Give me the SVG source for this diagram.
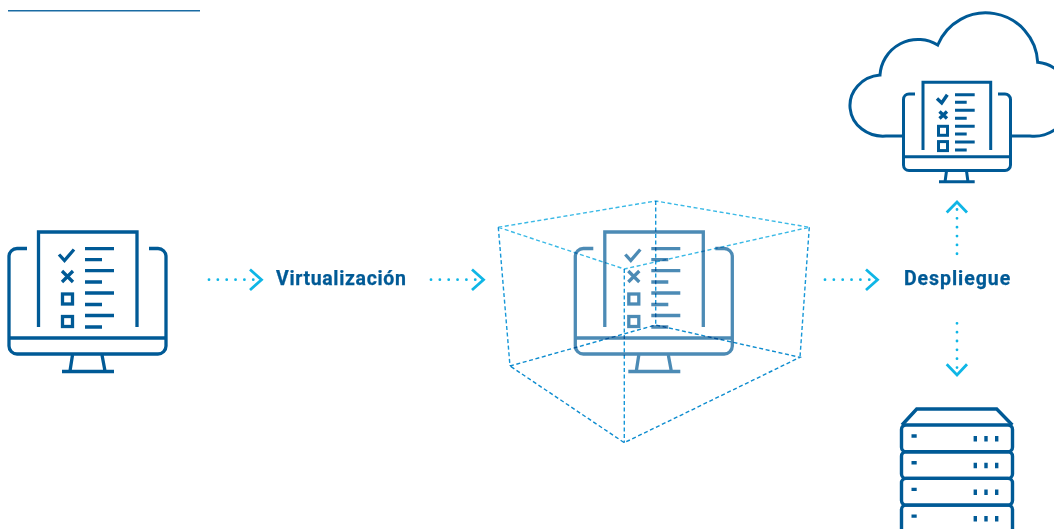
<svg xmlns="http://www.w3.org/2000/svg" width="1054" height="529" viewBox="0 0 1054 529">
<style>
.i{fill:none;stroke:#005a96;stroke-width:3.300}
.c{fill:none;stroke:#005a96;stroke-width:3}
.s{fill:none;stroke:#005a96;stroke-width:3.400}
.a{fill:none;stroke:#0fb6e6;stroke-width:2.800}
.d{fill:none;stroke:#0fb6e6;stroke-width:2.800;stroke-linecap:round;stroke-dasharray:0 8.85}
.e{fill:none;stroke-width:1.400;stroke-dasharray:4 2.600;mix-blend-mode:multiply}
.t{fill:#005a96;font-family:"Roboto","Liberation Sans",sans-serif;font-weight:700;font-size:19.500px;stroke:#005a96;stroke-width:.25}
</style>
<defs>
<g id="pc" class="i">
<path d="M27 248.500H17a8 8 0 0 0-8 8V346a8 8 0 0 0 8 8H158a8 8 0 0 0 8-8V256.500a8 8 0 0 0-8-8H149"/>
<path d="M9.500 338H166M38.500 327V232H137V327"/>
<path d="M72.500 355L70 371M102 355L105 371M62 371.500H114"/>
<path d="M59 254.500L64.500 260.500L74 249.500M62 271L73 282M73 271L62 282"/>
<rect x="62.500" y="294" width="10" height="10"/><rect x="62.500" y="316.500" width="10" height="10"/>
<path d="M85 248.700H114M85 259.700H102M85 270.700H114M85 282H102M85 293H114M85 304.500H102M85 315.500H114M85 327H102"/>
</g>
</defs>
<path id="rule" d="M8 10.800H200" fill="none" stroke="#1a6ba3" stroke-width="1.500"/>
<g id="node-source"><use href="#pc"/></g>
<g id="node-virtual"><use href="#pc" x="566.300" opacity=".7"/></g>
<g id="node-cube">
<path class="e" stroke="#3ab9e6" d="M498.300 227.300L655.700 201L809.300 227.300L624.300 269L498.300 227.300"/>
<path class="e" stroke="#1697d8" d="M655.700 201V325M498.300 227.300L510 366M809.300 227.300L800 357.300M624.300 269V442.700"/>
<path class="e" stroke="#0d8ccf" d="M510 366L655.700 325L800 357.300L624.300 442.700L510 366"/>
</g>
<g id="node-cloud">
<path class="c" d="M902 136H886A33 30.600 0 0 1 880 75A38 38 0 0 1 937.700 45A52 52 0 0 1 1037.700 62.300A37 37 0 0 1 1030 136H1011.700"/>
<path class="c" d="M915 94H909a5.500 5.500 0 0 0-5.500 5.500V165a5.500 5.500 0 0 0 5.500 5.500H1005a5.500 5.500 0 0 0 5.500-5.500V99.500a5.500 5.500 0 0 0-5.500-5.500H998"/>
<path class="c" d="M903.500 156.800H1010.500M923 150V82.200H990.700V150"/>
<path class="c" d="M946.500 171L945 182M966.500 171L968 182M939 181.800H974.700"/>
<path class="c" style="stroke-width:3.400" d="M937 98.500L941.700 103L947.300 94.700M939.500 111.500L947 118.500M947 111.500L939.500 118.500"/>
<rect class="c" x="938.500" y="126.300" width="9" height="9"/><rect class="c" x="938.500" y="141.600" width="9" height="9"/>
<path class="c" d="M955 94.700H974.700M955 102.300H966.700M955 110.300H974.700M955 118.300H966.700M955 126.300H974.700M955 134H966.700M955 142H974.700M955 150H966.700"/>
</g>
<g id="node-server">
<path class="s" d="M902 425L916.700 409H996.700L1012.300 425"/>
<rect class="s" x="901.500" y="425" width="111" height="26.700" rx="4.500"/>
<rect class="s" x="901.500" y="451.700" width="111" height="26.700" rx="4.500"/>
<rect class="s" x="901.500" y="478.400" width="111" height="26.700" rx="4.500"/>
<rect class="s" x="901.500" y="505.100" width="111" height="30" rx="4.500"/>
<path class="s" d="M911.500 436H916.700M911.500 462.700H916.700M911.500 489.400H916.700M911.500 516.100H916.700"/>
<path class="s" d="M975.300 436V441.500M986 436V441.500M996.700 436V441.500M975.300 462.700V468.200M986 462.700V468.200M996.700 462.700V468.200M975.300 489.400V494.900M986 489.400V494.900M996.700 489.400V494.900M975.300 516.100V521.600M986 516.100V521.600M996.700 516.100V521.600"/>
</g>
<g id="label-virtualizacion"><text class="t" x="276" y="284.500" style="letter-spacing:.65px">Virtualización</text></g>
<g id="label-despliegue"><text class="t" x="904" y="284.500" style="letter-spacing:.95px">Despliegue</text></g>
<g id="connectors">
<path class="d" d="M209 279.700H254M431 279.700H476M825 279.700H870"/>
<path class="a" d="M250 269.500L261.500 279.700L250 290M472 269.500L483.500 279.700L472 290M866 269.500L877.500 279.700L866 290"/>
<path class="d" d="M957 209.500V256"/>
<path class="a" d="M946.700 212.500L957 202L967 212.500"/>
<path class="d" d="M957 323.300V368"/>
<path class="a" d="M946.700 364.300L957 375L967 364.300"/>
</g>
</svg>
